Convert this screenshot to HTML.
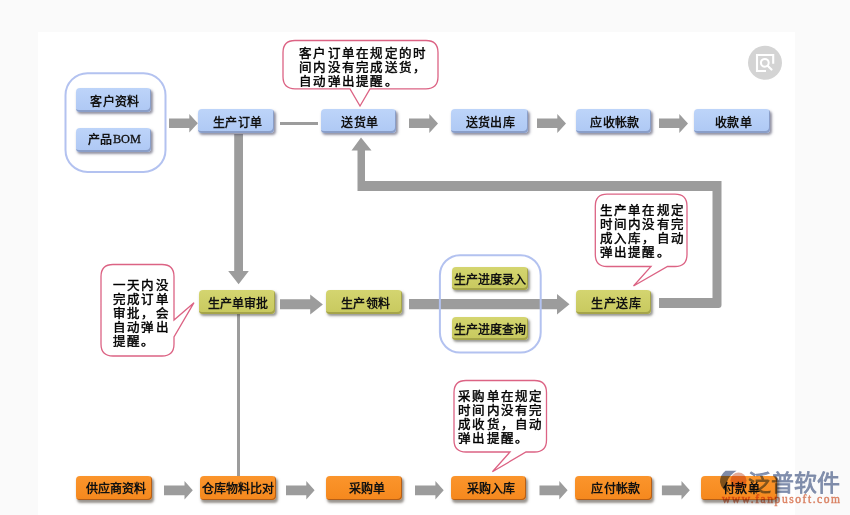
<!DOCTYPE html>
<html lang="zh-CN"><head><meta charset="utf-8">
<style>
html,body{margin:0;padding:0;}
body{width:850px;height:515px;background:#fafafa;position:relative;overflow:hidden;font-family:"Liberation Sans",sans-serif;}
#panel{position:absolute;left:38px;top:32px;width:757px;height:483px;background:#fff;}
svg{position:absolute;left:0;top:0;}
.b{position:absolute;height:23px;width:76px;border-radius:4px;font-size:12px;font-weight:bold;color:#111;
  display:flex;align-items:center;justify-content:center;line-height:1;white-space:nowrap;letter-spacing:0.4px;box-sizing:border-box;padding-left:3px;}
.b.n{letter-spacing:0;padding-left:0;}
.bl{padding-top:4px;}
.ol{padding-top:4px;}
.or{padding-top:2px;padding-left:5px;letter-spacing:0.2px;}
.b.f{letter-spacing:0.1px;}
.bl{background:linear-gradient(#bdd4f9,#aec8f4);box-shadow:inset -1px -2px 0 #8a9ec8,1.5px 2px 2.5px rgba(60,60,90,.55);}
.ol{background:linear-gradient(#d4d570,#c8c95e);box-shadow:inset -1px -2px 0 #a5a44a,1.5px 2px 2.5px rgba(70,70,60,.55);}
.or{background:linear-gradient(#fb952c,#f5881d);box-shadow:inset -1px -1px 0 #b55f18,1.5px 2.5px 2.5px rgba(70,60,50,.55);}
.t{position:absolute;font-size:12.5px;line-height:14px;letter-spacing:1.3px;color:#000;white-space:nowrap;-webkit-text-stroke:0.45px #000;}
</style></head><body>
<div id="panel"></div>
<svg width="850" height="515" viewBox="0 0 850 515">
  <g fill="#9c9c9c">
    <!-- top row arrows -->
    <path d="M169 118.5 H189.3 V114 L197.8 123.2 L189.3 132.5 V128 H169 Z"/>
    <rect x="280" y="122" width="38" height="3"/>
    <path d="M409 118.5 H429.3 V114 L438 123.4 L429.3 133 V128 H409 Z"/>
    <path d="M537 118.5 H557.3 V114 L566 123.4 L557.3 133 V128 H537 Z"/>
    <path d="M659 118.5 H679.3 V114 L688 123.4 L679.3 133 V128 H659 Z"/>
    <!-- vertical down arrow -->
    <path d="M234.2 134 H243 V271 H248.8 L238.6 284.3 L228.2 271 H234.2 Z"/>
    <!-- middle arrows -->
    <path d="M280 299.2 H310.2 V294.4 L322.9 304.4 L310.2 314.5 V309.3 H280 Z"/>
    <path d="M409 299 H557 V294 L569.5 304.3 L557 314.5 V309.3 H409 Z"/>
    <!-- return path -->
    <path d="M659 308 H718.5 Q721.5 308 721.5 305 V181 H365 V150.5 H371.5 L361 137.5 L351.5 150.5 H357.5 V191 H712.5 V298 H659 Z"/>
    <!-- thin vertical line -->
    <rect x="237" y="313" width="3" height="164"/>
    <!-- bottom arrows -->
    <path d="M164 485.5 H184.5 V481 L192.8 490.3 L184.5 499.5 V495.3 H164 Z"/>
    <path d="M286 485.5 H306.3 V481 L314.6 490.3 L306.3 499.5 V495.3 H286 Z"/>
    <path d="M415 485.5 H435.4 V481 L443.7 490.3 L435.4 499.5 V495.3 H415 Z"/>
    <path d="M539.5 485.5 H559.3 V481 L567.6 490.3 L559.3 499.5 V495.3 H539.5 Z"/>
    <path d="M661.9 485.5 H681.5 V481 L689.8 490.3 L681.5 499.5 V495.3 H661.9 Z"/>
  </g>
  <!-- containers -->
  <rect x="65.5" y="73.2" width="100" height="98.8" rx="22" fill="none" stroke="#b3c2f0" stroke-width="2"/>
  <rect x="439.9" y="255.2" width="100.8" height="97.4" rx="20" fill="none" stroke="#b3c2f0" stroke-width="2"/>
  <g fill="#fff" stroke="#dc6384" stroke-width="1.3">
    <path d="M295 40.5 H426 Q438 40.5 438 52.5 V76.8 Q438 88.8 426 88.8 H370 L360 106 L350 88.8 H295 Q283 88.8 283 76.8 V52.5 Q283 40.5 295 40.5 Z"/>
    <path d="M607 194.2 H675 Q687 194.2 687 206.2 V254.5 Q687 266.5 675 266.5 H667.5 L633.5 286 L651 266.5 H607 Q595.3 266.5 595.3 254.5 V206.2 Q595.3 194.2 607 194.2 Z"/>
    <path d="M466 380.5 H534.5 Q546.5 380.5 546.5 392.5 V440 Q546.5 452 534.5 452 H526 L492.4 471.8 L510 452 H466 Q454 452 454 440 V392.5 Q454 380.5 466 380.5 Z"/>
    <path d="M113 264.5 H162 Q174 264.5 174 276.5 V320 L194 302.7 L174 337 V344 Q174 356 162 356 H113 Q101 356 101 344 V276.5 Q101 264.5 113 264.5 Z"/>
  </g>
  <!-- magnifier -->
  <circle cx="765" cy="62.8" r="17" fill="#d4d4d4"/>
  <path d="M773.2 63.8 V55 H757 V71 H766" fill="none" stroke="#fff" stroke-width="2.1"/>
  <circle cx="764.8" cy="62.8" r="3.9" fill="none" stroke="#fff" stroke-width="2"/>
  <path d="M767.6 65.8 L771.5 69.5" stroke="#fff" stroke-width="2.2" stroke-linecap="round"/>
</svg>

<!-- top -->
<div class="b bl" style="left:76px;top:88.3px;width:75px;height:23.5px;">客户资料</div>
<div class="b bl" style="left:76px;top:128.3px;width:75px;height:23.6px;padding-top:0;padding-bottom:1px;padding-left:2px;">产品<span style="font-family:'Liberation Serif',serif;font-weight:normal;font-size:12.3px;letter-spacing:0;-webkit-text-stroke:0.3px #111">BOM</span></div>
<div class="b bl" style="left:198.2px;top:109.2px;height:23.8px;">生产订单</div>
<div class="b bl" style="left:321px;top:109.2px;height:23.8px;width:75px;">送货单</div>
<div class="b bl" style="left:450.5px;top:109.2px;height:23.8px;width:77px;">送货出库</div>
<div class="b bl" style="left:576px;top:109.2px;height:23.8px;width:75px;">应收帐款</div>
<div class="b bl" style="left:694.3px;top:109.2px;height:23.8px;width:75.5px;">收款单</div>
<!-- middle -->
<div class="b ol f" style="left:198.5px;top:289.8px;width:76px;height:24px;">生产单审批</div>
<div class="b ol" style="left:326.3px;top:290.2px;width:76px;height:23.5px;">生产领料</div>
<div class="b ol n" style="left:452.3px;top:266.9px;width:76px;">生产进度录入</div>
<div class="b ol n" style="left:452.3px;top:316.5px;width:76px;">生产进度查询</div>
<div class="b ol" style="padding-left:6px;left:575.5px;top:290px;width:75.5px;height:23.5px;">生产送库</div>
<!-- bottom -->
<div class="b or" style="left:75.5px;top:476.3px;height:23.5px;">供应商资料</div>
<div class="b or n" style="left:199.8px;top:476.3px;height:23.5px;">仓库物料比对</div>
<div class="b or" style="left:326.4px;top:476.2px;height:23.6px;">采购单</div>
<div class="b or" style="padding-left:5px;left:450.6px;top:476.3px;width:75.8px;height:23.5px;">采购入库</div>
<div class="b or" style="left:575px;top:476px;width:76.8px;height:24px;">应付帐款</div>
<div class="b or" style="padding-left:6px;left:700.5px;top:476.3px;height:23.5px;">付款单</div>

<!-- callout texts -->
<div class="t" style="left:299px;top:46.7px;">客户订单在规定的时<br>间内没有完成送货，<br>自动弹出提醒。</div>
<div class="t" style="left:599.5px;top:204px;">生产单在规定<br>时间内没有完<br>成入库，自动<br>弹出提醒。</div>
<div class="t" style="left:458px;top:390px;">采购单在规定<br>时间内没有完<br>成收货，自动<br>弹出提醒。</div>
<div class="t" style="left:112.8px;top:278.5px;">一天内没<br>完成订单<br>审批，会<br>自动弹出<br>提醒。</div>

<!-- watermark -->
<svg width="850" height="515" viewBox="0 0 850 515" style="mix-blend-mode:multiply">
  <circle cx="738.5" cy="480.5" r="8" fill="rgba(210,115,80,.6)"/>
  <path d="M725.5 470.8 H736.5 Q728.5 476 727 482 Q726 488 729.5 493 Q721.5 490 720 482 Q720 475 725.5 470.8 Z" fill="rgba(95,110,145,.8)"/>
</svg>
<div style="position:absolute;mix-blend-mode:multiply;left:748px;top:467.8px;font-size:23px;line-height:30px;color:rgba(115,130,165,.85);-webkit-text-stroke:0.8px rgba(115,130,165,.85);white-space:nowrap;letter-spacing:0px">泛普软件</div>
<div style="position:absolute;mix-blend-mode:multiply;left:722px;top:492px;font-family:'Liberation Serif',serif;font-size:11.5px;line-height:14px;letter-spacing:1.55px;color:rgba(220,125,90,.85);-webkit-text-stroke:0.5px rgba(220,125,90,.85);white-space:nowrap">www.fanpusoft.com</div>
</body></html>
